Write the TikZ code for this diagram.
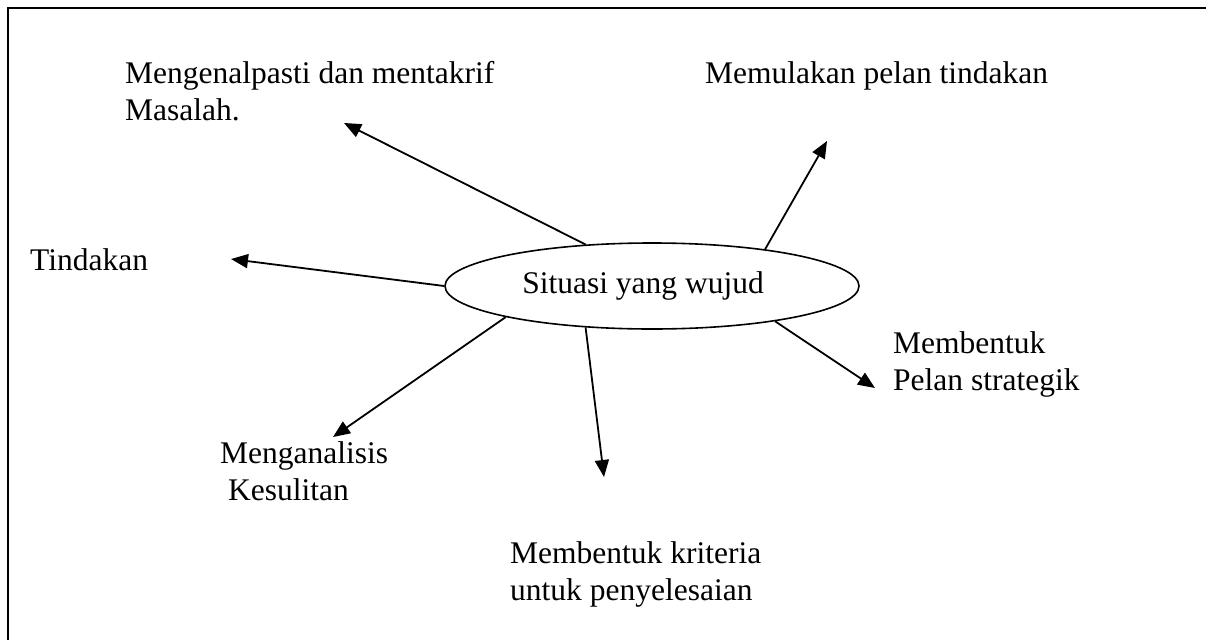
\documentclass[tikz,border=0pt]{standalone}
\usepackage{fontspec}
\setmainfont{Liberation Serif}
\usetikzlibrary{arrows.meta,shapes.geometric}
\begin{document}
\begin{tikzpicture}[x=1pt,y=-1pt,
  lbl/.style={anchor=base west,inner sep=0pt,align=left,font=\fontsize{31.5}{37}\selectfont},
  conn/.style={line width=1.8pt,-{Triangle[length=17pt,width=14pt]}},
  frameline/.style={line width=2pt}]
\useasboundingbox (0,0) rectangle (1206,640);
\draw[frameline] (8,640) -- (8,8) -- (1206,8);
\node[draw,ellipse,line width=1.6pt,minimum width=414pt,minimum height=86pt,inner sep=0pt,
  font=\fontsize{31.5}{37}\selectfont] (sit) at (652,286) {\hspace*{-18pt}Situasi yang wujud};
\node[lbl] (l1) at (125,120) {Mengenalpasti dan mentakrif\\Masalah.};
\node[lbl] (l2) at (705,83) {Memulakan pelan tindakan};
\node[lbl] (l3) at (30,270) {Tindakan};
\node[lbl] (l4) at (893,390) {Membentuk\\Pelan strategik};
\node[lbl] (l5) at (220,500) {Menganalisis\\\hspace{8pt}Kesulitan};
\node[lbl] (l6) at (510,600) {Membentuk kriteria\\untuk penyelesaian};
\coordinate (t1) at (344,123);
\coordinate (t2) at (231,259);
\coordinate (t3) at (827,141);
\coordinate (t4) at (875,388);
\coordinate (t5) at (333,437);
\coordinate (t6) at (604,477);
\draw[conn] (sit.148.7) -- (t1);
\draw[conn] (sit.180) -- (t2);
\draw[conn] (sit.18.1) -- (t3);
\draw[conn] (sit.-16.1) -- (t4);
\draw[conn] (sit.192.9) -- (t5);
\draw[conn] (sit.212.7) -- (t6);
\end{tikzpicture}
\end{document}
